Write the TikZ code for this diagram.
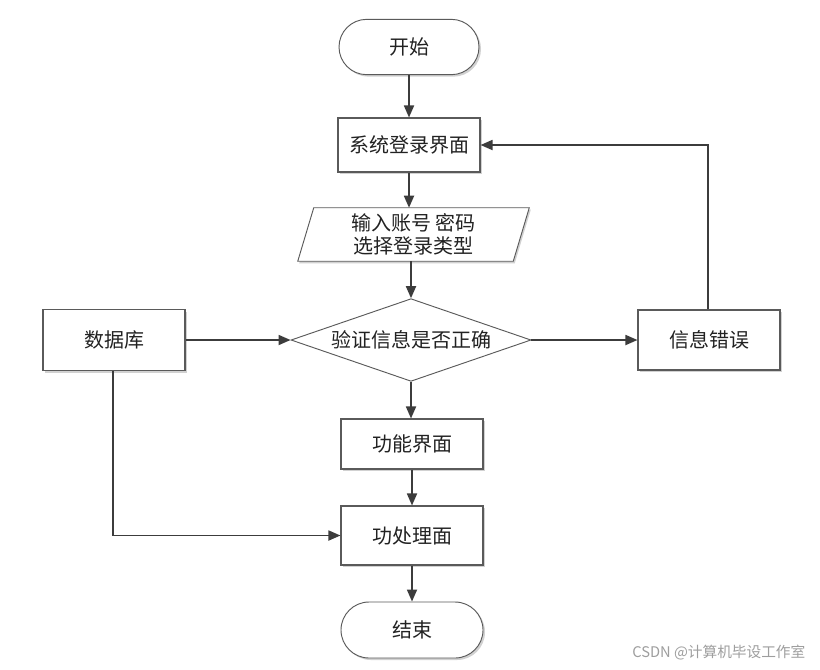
\documentclass[tikz,border=0pt]{standalone}
\usepackage{fontspec}
\newfontfamily\cjk{Noto Sans CJK SC}
\usetikzlibrary{arrows.meta,shapes.misc,shapes.geometric,shadows}
\definecolor{linec}{HTML}{3C3C3C}
\definecolor{boxc}{HTML}{5A5A5A}
\definecolor{txtc}{HTML}{222222}
\begin{document}
\begin{tikzpicture}[x=0.75pt,y=-0.75pt,
  every node/.style={font=\cjk\fontsize{15pt}{18pt}\selectfont, text=txtc},
  shad/.style={drop shadow={shadow xshift=1.5pt,shadow yshift=-1.5pt,fill=black!18,opacity=1}},
  procbox/.style={draw=boxc,line width=0.8pt,fill=white,shad,minimum width=106.5pt,inner sep=0pt},
  termbox/.style={rounded rectangle,draw=boxc,line width=0.7pt,fill=white,shad,minimum width=105pt,minimum height=41.5pt,inner sep=0pt},
  conn/.style={draw=linec,line width=1.3pt,-{Triangle[length=9pt,width=7.5pt]}},
  plainconn/.style={draw=linec,line width=1.3pt}
]
\useasboundingbox (0,0) rectangle (820,669);
\fill[white] (0,0) rectangle (820,669);

\node[termbox] (start) at (409,47) {开始};
\node[procbox,minimum height=40.5pt] (sys) at (409,145) {系统登录界面};
% parallelogram
\node[minimum width=161.25pt,minimum height=39.75pt,inner sep=0pt] (para) at (413.5,234.5) {};
\fill[black!18] ([shift={(9.5,2)}]para.north west) -- ([shift={(9.5,2)}]para.north east) -- ([shift={(-6.5,2)}]para.south east) -- ([shift={(-6.5,2)}]para.south west) -- cycle;
\filldraw[draw=boxc,fill=white,line width=0.7pt] ([xshift=6pt]para.north west) -- ([xshift=6pt]para.north east) -- ([xshift=-6pt]para.south east) -- ([xshift=-6pt]para.south west) -- cycle;
\node[align=center] at (para.center) {输入账号 密码\\[-1pt]选择登录类型};
% diamond
\node[diamond,aspect=2.9,draw=boxc,line width=0.7pt,fill=white,minimum width=180pt,minimum height=62pt,inner sep=0pt] (chk) at (411,340) {验证信息是否正确};
\node[procbox,minimum height=45.75pt] (db) at (114,340) {数据库};
\node[procbox,minimum height=45pt] (err) at (709,340) {信息错误};
\node[procbox,minimum height=37.5pt] (func) at (412,444) {功能界面};
\node[procbox,minimum height=44.25pt] (proc) at (412,535.5) {功处理面};
\node[termbox,minimum width=106.5pt,minimum height=42pt] (end) at (412,630) {结束};

\node[anchor=east,font=\cjk\fontsize{11pt}{13pt}\selectfont,text=black!38] (wm) at (810,653) {CSDN @计算机毕设工作室};

% connectors
\draw[conn] (start.south) -- (sys.north);
\draw[conn] (sys.south) -- (sys.south |- para.north);
\draw[conn] (chk.north |- para.south) -- (chk.north);
\draw[conn] (chk.south) -- (chk.south |- func.north);
\draw[conn] (func.south) -- (proc.north);
\draw[conn] (proc.south) -- (end.north);
\draw[conn] (db.east) -- (chk.west);
\draw[conn] (chk.east) -- (err.west);
\coordinate (errtop) at (708,145);
\draw[conn] ([xshift=-0.75pt]err.north) -- (errtop) -- (sys.east);
\coordinate (dbbot) at (113,535.5);
\draw[conn] ([xshift=-0.75pt]db.south) -- (dbbot) -- (proc.west);
\end{tikzpicture}
\end{document}
